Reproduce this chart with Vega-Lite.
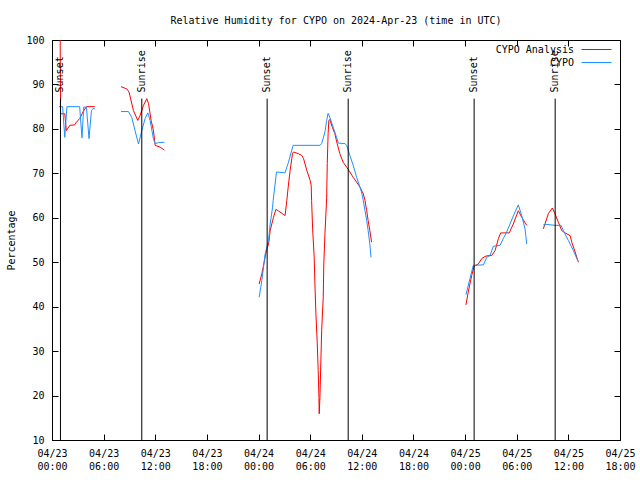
{
  "$schema": "https://vega.github.io/schema/vega-lite/v6.json",
  "width": 568,
  "height": 400,
  "autosize": "none",
  "padding": {"left": 52, "top": 40, "right": 20, "bottom": 40},
  "background": "white",
  "title": {"text": "Relative Humidity for CYPO on 2024-Apr-23 (time in UTC)", "font": "DejaVu Sans Mono", "fontSize": 10, "fontWeight": "normal", "anchor": "middle", "frame": "group", "offset": 9, "color": "black"},
  "config": {
    "view": {"stroke": "black", "strokeWidth": 1},
    "font": "DejaVu Sans Mono",
    "axis": {"labelFont": "DejaVu Sans Mono", "labelFontSize": 10, "labelColor": "black", "tickColor": "black", "domain": false, "grid": false, "titleFont": "DejaVu Sans Mono", "titleFontSize": 10, "titleFontWeight": "normal", "titleColor": "black"},
    "legend": {"labelFont": "DejaVu Sans Mono", "labelFontSize": 10, "labelColor": "black"}
  },
  "datasets": {
    "ana": [
      {"t": "2024-04-23T00:57:00Z", "v": 100, "g": 1},
      {"t": "2024-04-23T01:00:00Z", "v": 83.4, "g": 1},
      {"t": "2024-04-23T01:29:00Z", "v": 83.4, "g": 1},
      {"t": "2024-04-23T01:40:00Z", "v": 79.6, "g": 1},
      {"t": "2024-04-23T02:04:00Z", "v": 80.8, "g": 1},
      {"t": "2024-04-23T02:38:00Z", "v": 80.9, "g": 1},
      {"t": "2024-04-23T02:50:00Z", "v": 81.5, "g": 1},
      {"t": "2024-04-23T03:13:00Z", "v": 82.3, "g": 1},
      {"t": "2024-04-23T03:36:00Z", "v": 83.8, "g": 1},
      {"t": "2024-04-23T04:00:00Z", "v": 85.0, "g": 1},
      {"t": "2024-04-23T04:58:00Z", "v": 85.0, "g": 1},
      {"t": "2024-04-23T08:01:00Z", "v": 89.5, "g": 2},
      {"t": "2024-04-23T08:41:00Z", "v": 89.0, "g": 2},
      {"t": "2024-04-23T08:57:00Z", "v": 88.3, "g": 2},
      {"t": "2024-04-23T09:28:00Z", "v": 84.1, "g": 2},
      {"t": "2024-04-23T09:58:00Z", "v": 81.9, "g": 2},
      {"t": "2024-04-23T10:14:00Z", "v": 83.0, "g": 2},
      {"t": "2024-04-23T10:38:00Z", "v": 85.3, "g": 2},
      {"t": "2024-04-23T11:01:00Z", "v": 86.8, "g": 2},
      {"t": "2024-04-23T11:13:00Z", "v": 85.7, "g": 2},
      {"t": "2024-04-23T11:31:00Z", "v": 81.9, "g": 2},
      {"t": "2024-04-23T11:47:00Z", "v": 79.7, "g": 2},
      {"t": "2024-04-23T11:59:00Z", "v": 76.3, "g": 2},
      {"t": "2024-04-23T12:34:00Z", "v": 75.9, "g": 2},
      {"t": "2024-04-23T13:04:00Z", "v": 75.2, "g": 2},
      {"t": "2024-04-24T00:04:00Z", "v": 45.1, "g": 3},
      {"t": "2024-04-24T00:23:00Z", "v": 47.4, "g": 3},
      {"t": "2024-04-24T00:46:00Z", "v": 51.1, "g": 3},
      {"t": "2024-04-24T00:58:00Z", "v": 53.0, "g": 3},
      {"t": "2024-04-24T01:10:00Z", "v": 54.1, "g": 3},
      {"t": "2024-04-24T01:21:00Z", "v": 57.1, "g": 3},
      {"t": "2024-04-24T01:44:00Z", "v": 60.1, "g": 3},
      {"t": "2024-04-24T02:01:00Z", "v": 61.9, "g": 3},
      {"t": "2024-04-24T02:20:00Z", "v": 61.5, "g": 3},
      {"t": "2024-04-24T02:43:00Z", "v": 61.0, "g": 3},
      {"t": "2024-04-24T03:05:00Z", "v": 60.5, "g": 3},
      {"t": "2024-04-24T03:17:00Z", "v": 63.9, "g": 3},
      {"t": "2024-04-24T03:29:00Z", "v": 67.6, "g": 3},
      {"t": "2024-04-24T03:40:00Z", "v": 70.6, "g": 3},
      {"t": "2024-04-24T03:57:00Z", "v": 74.5, "g": 3},
      {"t": "2024-04-24T04:04:00Z", "v": 74.8, "g": 3},
      {"t": "2024-04-24T04:39:00Z", "v": 74.4, "g": 3},
      {"t": "2024-04-24T05:02:00Z", "v": 74.0, "g": 3},
      {"t": "2024-04-24T05:14:00Z", "v": 73.3, "g": 3},
      {"t": "2024-04-24T05:37:00Z", "v": 70.6, "g": 3},
      {"t": "2024-04-24T06:00:00Z", "v": 68.4, "g": 3},
      {"t": "2024-04-24T06:07:00Z", "v": 67.3, "g": 3},
      {"t": "2024-04-24T06:10:00Z", "v": 63.9, "g": 3},
      {"t": "2024-04-24T06:17:00Z", "v": 57.5, "g": 3},
      {"t": "2024-04-24T06:28:00Z", "v": 51.1, "g": 3},
      {"t": "2024-04-24T06:33:00Z", "v": 45.1, "g": 3},
      {"t": "2024-04-24T06:40:00Z", "v": 38.4, "g": 3},
      {"t": "2024-04-24T06:49:00Z", "v": 32.0, "g": 3},
      {"t": "2024-04-24T06:56:00Z", "v": 25.6, "g": 3},
      {"t": "2024-04-24T07:01:00Z", "v": 19.6, "g": 3},
      {"t": "2024-04-24T07:03:00Z", "v": 15.9, "g": 3},
      {"t": "2024-04-24T07:08:00Z", "v": 19.6, "g": 3},
      {"t": "2024-04-24T07:14:00Z", "v": 27.1, "g": 3},
      {"t": "2024-04-24T07:20:00Z", "v": 34.6, "g": 3},
      {"t": "2024-04-24T07:31:00Z", "v": 42.1, "g": 3},
      {"t": "2024-04-24T07:35:00Z", "v": 49.6, "g": 3},
      {"t": "2024-04-24T07:43:00Z", "v": 56.4, "g": 3},
      {"t": "2024-04-24T07:55:00Z", "v": 64.6, "g": 3},
      {"t": "2024-04-24T07:59:00Z", "v": 72.2, "g": 3},
      {"t": "2024-04-24T08:05:00Z", "v": 78.9, "g": 3},
      {"t": "2024-04-24T08:10:00Z", "v": 81.9, "g": 3},
      {"t": "2024-04-24T08:17:00Z", "v": 82.1, "g": 3},
      {"t": "2024-04-24T08:34:00Z", "v": 80.4, "g": 3},
      {"t": "2024-04-24T08:52:00Z", "v": 78.9, "g": 3},
      {"t": "2024-04-24T09:08:00Z", "v": 76.7, "g": 3},
      {"t": "2024-04-24T09:27:00Z", "v": 74.4, "g": 3},
      {"t": "2024-04-24T09:50:00Z", "v": 72.5, "g": 3},
      {"t": "2024-04-24T10:14:00Z", "v": 71.4, "g": 3},
      {"t": "2024-04-24T10:37:00Z", "v": 70.3, "g": 3},
      {"t": "2024-04-24T11:00:00Z", "v": 69.1, "g": 3},
      {"t": "2024-04-24T11:24:00Z", "v": 68.0, "g": 3},
      {"t": "2024-04-24T11:47:00Z", "v": 66.9, "g": 3},
      {"t": "2024-04-24T12:10:00Z", "v": 65.4, "g": 3},
      {"t": "2024-04-24T12:22:00Z", "v": 63.9, "g": 3},
      {"t": "2024-04-24T12:34:00Z", "v": 61.6, "g": 3},
      {"t": "2024-04-24T12:44:00Z", "v": 59.4, "g": 3},
      {"t": "2024-04-24T12:56:00Z", "v": 57.1, "g": 3},
      {"t": "2024-04-24T13:08:00Z", "v": 54.5, "g": 3},
      {"t": "2024-04-25T00:06:00Z", "v": 40.4, "g": 5},
      {"t": "2024-04-25T00:22:00Z", "v": 43.3, "g": 5},
      {"t": "2024-04-25T00:46:00Z", "v": 47.0, "g": 5},
      {"t": "2024-04-25T01:02:00Z", "v": 49.1, "g": 5},
      {"t": "2024-04-25T01:32:00Z", "v": 49.6, "g": 5},
      {"t": "2024-04-25T01:56:00Z", "v": 50.8, "g": 5},
      {"t": "2024-04-25T02:19:00Z", "v": 51.3, "g": 5},
      {"t": "2024-04-25T02:42:00Z", "v": 51.5, "g": 5},
      {"t": "2024-04-25T03:05:00Z", "v": 51.5, "g": 5},
      {"t": "2024-04-25T03:29:00Z", "v": 52.6, "g": 5},
      {"t": "2024-04-25T03:52:00Z", "v": 55.3, "g": 5},
      {"t": "2024-04-25T04:08:00Z", "v": 56.6, "g": 5},
      {"t": "2024-04-25T05:08:00Z", "v": 56.6, "g": 5},
      {"t": "2024-04-25T05:36:00Z", "v": 58.6, "g": 5},
      {"t": "2024-04-25T06:11:00Z", "v": 61.6, "g": 5},
      {"t": "2024-04-25T06:35:00Z", "v": 60.1, "g": 5},
      {"t": "2024-04-25T07:10:00Z", "v": 58.3, "g": 5},
      {"t": "2024-04-25T09:05:00Z", "v": 57.5, "g": 6},
      {"t": "2024-04-25T09:17:00Z", "v": 58.6, "g": 6},
      {"t": "2024-04-25T09:40:00Z", "v": 60.9, "g": 6},
      {"t": "2024-04-25T10:08:00Z", "v": 62.2, "g": 6},
      {"t": "2024-04-25T10:27:00Z", "v": 60.9, "g": 6},
      {"t": "2024-04-25T10:50:00Z", "v": 59.0, "g": 6},
      {"t": "2024-04-25T11:14:00Z", "v": 57.1, "g": 6},
      {"t": "2024-04-25T11:37:00Z", "v": 56.6, "g": 6},
      {"t": "2024-04-25T12:12:00Z", "v": 56.0, "g": 6},
      {"t": "2024-04-25T12:24:00Z", "v": 54.5, "g": 6},
      {"t": "2024-04-25T12:47:00Z", "v": 52.3, "g": 6},
      {"t": "2024-04-25T13:10:00Z", "v": 50.0, "g": 6}
    ],
    "obs": [
      {"t": "2024-04-23T00:49:00Z", "v": 85.0, "g": 1},
      {"t": "2024-04-23T01:14:00Z", "v": 85.0, "g": 1},
      {"t": "2024-04-23T01:29:00Z", "v": 78.1, "g": 1},
      {"t": "2024-04-23T01:44:00Z", "v": 85.0, "g": 1},
      {"t": "2024-04-23T03:13:00Z", "v": 85.0, "g": 1},
      {"t": "2024-04-23T03:29:00Z", "v": 78.0, "g": 1},
      {"t": "2024-04-23T03:41:00Z", "v": 84.9, "g": 1},
      {"t": "2024-04-23T04:00:00Z", "v": 84.9, "g": 1},
      {"t": "2024-04-23T04:18:00Z", "v": 77.8, "g": 1},
      {"t": "2024-04-23T04:35:00Z", "v": 84.1, "g": 1},
      {"t": "2024-04-23T04:46:00Z", "v": 84.6, "g": 1},
      {"t": "2024-04-23T04:58:00Z", "v": 84.6, "g": 1},
      {"t": "2024-04-23T08:01:00Z", "v": 83.9, "g": 2},
      {"t": "2024-04-23T08:53:00Z", "v": 83.9, "g": 2},
      {"t": "2024-04-23T09:16:00Z", "v": 82.6, "g": 2},
      {"t": "2024-04-23T09:39:00Z", "v": 79.6, "g": 2},
      {"t": "2024-04-23T10:03:00Z", "v": 76.6, "g": 2},
      {"t": "2024-04-23T10:26:00Z", "v": 79.6, "g": 2},
      {"t": "2024-04-23T10:49:00Z", "v": 82.3, "g": 2},
      {"t": "2024-04-23T11:08:00Z", "v": 83.6, "g": 2},
      {"t": "2024-04-23T11:24:00Z", "v": 81.9, "g": 2},
      {"t": "2024-04-23T11:47:00Z", "v": 77.8, "g": 2},
      {"t": "2024-04-23T11:59:00Z", "v": 76.7, "g": 2},
      {"t": "2024-04-23T12:22:00Z", "v": 76.9, "g": 2},
      {"t": "2024-04-23T13:04:00Z", "v": 77.0, "g": 2},
      {"t": "2024-04-24T00:04:00Z", "v": 42.1, "g": 3},
      {"t": "2024-04-24T00:23:00Z", "v": 45.9, "g": 3},
      {"t": "2024-04-24T00:46:00Z", "v": 51.9, "g": 3},
      {"t": "2024-04-24T01:10:00Z", "v": 54.9, "g": 3},
      {"t": "2024-04-24T01:21:00Z", "v": 58.6, "g": 3},
      {"t": "2024-04-24T01:38:00Z", "v": 62.4, "g": 3},
      {"t": "2024-04-24T01:42:00Z", "v": 63.9, "g": 3},
      {"t": "2024-04-24T02:05:00Z", "v": 70.3, "g": 3},
      {"t": "2024-04-24T03:04:00Z", "v": 70.1, "g": 3},
      {"t": "2024-04-24T03:26:00Z", "v": 72.2, "g": 3},
      {"t": "2024-04-24T04:01:00Z", "v": 76.3, "g": 3},
      {"t": "2024-04-24T07:08:00Z", "v": 76.3, "g": 3},
      {"t": "2024-04-24T07:20:00Z", "v": 76.7, "g": 3},
      {"t": "2024-04-24T07:43:00Z", "v": 79.3, "g": 3},
      {"t": "2024-04-24T07:55:00Z", "v": 81.9, "g": 3},
      {"t": "2024-04-24T08:05:00Z", "v": 83.5, "g": 3},
      {"t": "2024-04-24T08:17:00Z", "v": 82.6, "g": 3},
      {"t": "2024-04-24T08:40:00Z", "v": 80.4, "g": 3},
      {"t": "2024-04-24T09:04:00Z", "v": 78.1, "g": 3},
      {"t": "2024-04-24T09:16:00Z", "v": 76.8, "g": 3},
      {"t": "2024-04-24T10:02:00Z", "v": 76.7, "g": 3},
      {"t": "2024-04-24T10:14:00Z", "v": 76.3, "g": 3},
      {"t": "2024-04-24T10:37:00Z", "v": 74.0, "g": 3},
      {"t": "2024-04-24T11:00:00Z", "v": 71.8, "g": 3},
      {"t": "2024-04-24T11:24:00Z", "v": 69.1, "g": 3},
      {"t": "2024-04-24T11:47:00Z", "v": 66.9, "g": 3},
      {"t": "2024-04-24T11:58:00Z", "v": 65.8, "g": 3},
      {"t": "2024-04-24T12:10:00Z", "v": 63.9, "g": 3},
      {"t": "2024-04-24T12:22:00Z", "v": 61.6, "g": 3},
      {"t": "2024-04-24T12:34:00Z", "v": 59.4, "g": 3},
      {"t": "2024-04-24T12:44:00Z", "v": 57.1, "g": 3},
      {"t": "2024-04-24T12:56:00Z", "v": 54.1, "g": 3},
      {"t": "2024-04-24T13:04:00Z", "v": 51.1, "g": 3},
      {"t": "2024-04-25T00:06:00Z", "v": 42.7, "g": 5},
      {"t": "2024-04-25T00:34:00Z", "v": 46.3, "g": 5},
      {"t": "2024-04-25T00:57:00Z", "v": 49.3, "g": 5},
      {"t": "2024-04-25T02:07:00Z", "v": 49.4, "g": 5},
      {"t": "2024-04-25T02:31:00Z", "v": 51.1, "g": 5},
      {"t": "2024-04-25T02:54:00Z", "v": 51.5, "g": 5},
      {"t": "2024-04-25T03:17:00Z", "v": 53.6, "g": 5},
      {"t": "2024-04-25T04:04:00Z", "v": 53.8, "g": 5},
      {"t": "2024-04-25T04:26:00Z", "v": 55.3, "g": 5},
      {"t": "2024-04-25T04:50:00Z", "v": 56.8, "g": 5},
      {"t": "2024-04-25T05:13:00Z", "v": 58.6, "g": 5},
      {"t": "2024-04-25T05:48:00Z", "v": 61.3, "g": 5},
      {"t": "2024-04-25T06:11:00Z", "v": 62.9, "g": 5},
      {"t": "2024-04-25T06:35:00Z", "v": 60.5, "g": 5},
      {"t": "2024-04-25T06:58:00Z", "v": 57.5, "g": 5},
      {"t": "2024-04-25T07:10:00Z", "v": 54.1, "g": 5},
      {"t": "2024-04-25T09:05:00Z", "v": 58.4, "g": 6},
      {"t": "2024-04-25T09:29:00Z", "v": 58.5, "g": 6},
      {"t": "2024-04-25T10:27:00Z", "v": 58.3, "g": 6},
      {"t": "2024-04-25T11:09:00Z", "v": 58.3, "g": 6},
      {"t": "2024-04-25T11:25:00Z", "v": 57.1, "g": 6},
      {"t": "2024-04-25T12:00:00Z", "v": 54.9, "g": 6},
      {"t": "2024-04-25T12:35:00Z", "v": 52.6, "g": 6},
      {"t": "2024-04-25T13:05:00Z", "v": 50.4, "g": 6}
    ],
    "sun": [
      {"t": "2024-04-23T00:59:00Z", "label": "Sunset"},
      {"t": "2024-04-23T10:26:00Z", "label": "Sunrise"},
      {"t": "2024-04-24T01:00:00Z", "label": "Sunset"},
      {"t": "2024-04-24T10:25:00Z", "label": "Sunrise"},
      {"t": "2024-04-25T01:03:00Z", "label": "Sunset"},
      {"t": "2024-04-25T10:28:00Z", "label": "Sunrise"}
    ]
  },
  "layer": [
    {
      "data": {"name": "ana"},
      "mark": {"type": "line", "strokeWidth": 1, "interpolate": "linear"},
      "encoding": {
        "x": {"field": "t", "type": "temporal", "scale": {"type": "utc", "domain": [{"year": 2024, "month": 4, "date": 23, "hours": 0, "utc": true}, {"year": 2024, "month": 4, "date": 25, "hours": 18, "utc": true}]},
          "axis": {"orient": "bottom", "title": null, "tickSize": -6, "labelPadding": 14, "labelLineHeight": 13, "labelBaseline": "top", "labelFlush": false, "labelOverlap": false,
            "values": [
              {"year": 2024, "month": 4, "date": 23, "hours": 0, "utc": true},
              {"year": 2024, "month": 4, "date": 23, "hours": 6, "utc": true},
              {"year": 2024, "month": 4, "date": 23, "hours": 12, "utc": true},
              {"year": 2024, "month": 4, "date": 23, "hours": 18, "utc": true},
              {"year": 2024, "month": 4, "date": 24, "hours": 0, "utc": true},
              {"year": 2024, "month": 4, "date": 24, "hours": 6, "utc": true},
              {"year": 2024, "month": 4, "date": 24, "hours": 12, "utc": true},
              {"year": 2024, "month": 4, "date": 24, "hours": 18, "utc": true},
              {"year": 2024, "month": 4, "date": 25, "hours": 0, "utc": true},
              {"year": 2024, "month": 4, "date": 25, "hours": 6, "utc": true},
              {"year": 2024, "month": 4, "date": 25, "hours": 12, "utc": true},
              {"year": 2024, "month": 4, "date": 25, "hours": 18, "utc": true}
            ],
            "labelExpr": "[utcFormat(datum.value, '%m/%d'), utcFormat(datum.value, '%H:%M')]"}},
        "y": {"field": "v", "type": "quantitative", "scale": {"domain": [10, 100], "nice": false, "zero": false},
          "axis": {"orient": "left", "title": "Percentage", "titlePadding": 9, "tickSize": -6, "labelPadding": 14, "values": [10, 20, 30, 40, 50, 60, 70, 80, 90, 100]}},
        "detail": {"field": "g", "type": "nominal"},
        "color": {"datum": "CYPO Analysis", "type": "nominal",
          "scale": {"domain": ["CYPO Analysis", "CYPO"], "range": ["#ff0000", "#1e90ff"]},
          "legend": {"orient": "none", "legendX": 538, "legendY": 3, "title": null, "symbolType": "M-2.5,0H2.5", "symbolSize": 144, "symbolStrokeWidth": 1, "labelAlign": "right", "labelOffset": -29, "rowPadding": 1, "padding": 0}}
      }
    },
    {
      "data": {"name": "obs"},
      "mark": {"type": "line", "strokeWidth": 1, "interpolate": "linear"},
      "encoding": {
        "x": {"field": "t", "type": "temporal", "axis": null},
        "y": {"field": "v", "type": "quantitative", "axis": null},
        "detail": {"field": "g", "type": "nominal"},
        "color": {"datum": "CYPO", "type": "nominal"}
      }
    },
    {
      "data": {"name": "sun"},
      "mark": {"type": "rule", "color": "black", "strokeWidth": 1},
      "encoding": {
        "x": {"field": "t", "type": "temporal",
          "axis": {"orient": "top", "title": null, "labels": false, "tickSize": -6,
            "values": [
              {"year": 2024, "month": 4, "date": 23, "hours": 0, "utc": true},
              {"year": 2024, "month": 4, "date": 23, "hours": 6, "utc": true},
              {"year": 2024, "month": 4, "date": 23, "hours": 12, "utc": true},
              {"year": 2024, "month": 4, "date": 23, "hours": 18, "utc": true},
              {"year": 2024, "month": 4, "date": 24, "hours": 0, "utc": true},
              {"year": 2024, "month": 4, "date": 24, "hours": 6, "utc": true},
              {"year": 2024, "month": 4, "date": 24, "hours": 12, "utc": true},
              {"year": 2024, "month": 4, "date": 24, "hours": 18, "utc": true},
              {"year": 2024, "month": 4, "date": 25, "hours": 0, "utc": true},
              {"year": 2024, "month": 4, "date": 25, "hours": 6, "utc": true},
              {"year": 2024, "month": 4, "date": 25, "hours": 12, "utc": true},
              {"year": 2024, "month": 4, "date": 25, "hours": 18, "utc": true}
            ]}},
        "y": {"datum": 86.8, "type": "quantitative",
          "axis": {"orient": "right", "title": null, "labels": false, "tickSize": -6, "values": [10, 20, 30, 40, 50, 60, 70, 80, 90, 100]}},
        "y2": {"datum": 10}
      }
    },
    {
      "data": {"name": "sun"},
      "mark": {"type": "text", "angle": 270, "align": "left", "baseline": "middle", "font": "DejaVu Sans Mono", "fontSize": 10, "color": "black"},
      "encoding": {
        "x": {"field": "t", "type": "temporal", "axis": null},
        "y": {"datum": 88.2, "type": "quantitative", "axis": null},
        "text": {"field": "label", "type": "nominal"}
      }
    }
  ],
  "resolve": {"axis": {"x": "independent", "y": "independent"}}
}
